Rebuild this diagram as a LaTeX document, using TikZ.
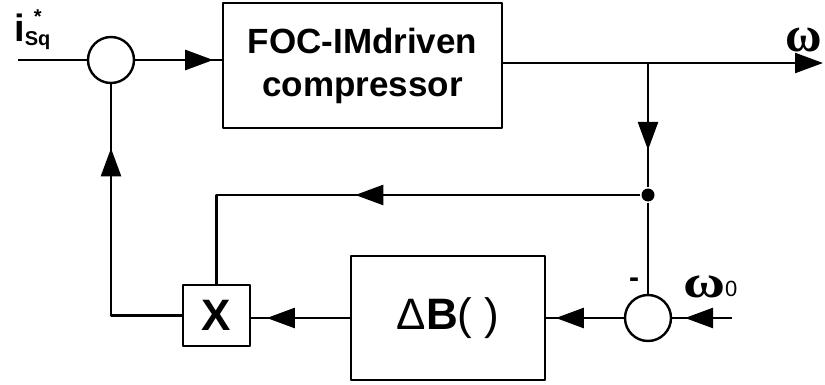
\documentclass[tikz,border=0pt]{standalone}
\usepackage{fontspec}
\setmainfont{Liberation Sans}
\newfontfamily\grkserif{Liberation Serif}
\usetikzlibrary{arrows.meta,decorations.markings}
\begin{document}
\begin{tikzpicture}[x=1pt,y=-1pt,line width=2.4pt,line join=round,
  tipa/.tip={Triangle[length=28pt,width=20pt]},
  blk/.style={draw,line width=2.4pt,inner sep=0pt,align=center},
  sumc/.style={draw,circle,minimum size=46pt,inner sep=0pt},
  marr/.style={postaction={decorate,decoration={markings,mark=at position #1 with {\arrow{tipa}}}}},
  lbl/.style={inner sep=0pt}]
\useasboundingbox (0,0) rectangle (825,385);
% blocks
\node[blk,minimum width=279pt,minimum height=125pt,font=\bfseries\fontsize{35}{43}\selectfont] (foc) at (362.5,65.5) {FOC-IMdriven\\compressor};
\node[blk,minimum width=67pt,minimum height=61pt,font=\bfseries\fontsize{44}{44}\selectfont] (xb) at (216.5,315.5) {X};
\node[blk,minimum width=194pt,minimum height=124pt,font=\fontsize{44}{44}\selectfont] (db) at (448,318) {Δ\textbf{B}( )};
\node[sumc] (c1) at (111,60) {};
\node[sumc] (c2) at (648,318) {};
\node[circle,fill,minimum size=13pt,inner sep=0pt] (dot) at (648,195) {};
% coordinates
\coordinate (in) at (18,60);
\coordinate (out) at (823,63);
\coordinate (br) at (648,63);
\coordinate (w0) at (732,318);
% connectors
\draw (in) -- (c1.west);
\draw[marr=78pt] (c1.east) -- (c1.east -| foc.west);
\draw[-tipa] (foc.east |- out) -- (out);
\draw[marr=87pt] (br) -- (dot);
\draw (dot) -- (c2.north);
\draw[marr=285pt] (dot) -- (dot -| xb) -- (xb.north);
\draw[marr=238pt] (xb.west) -| (c1.south);
\draw[marr=83pt] (db.west) -- (db.west -| xb.east);
\draw[marr=68pt] (c2.west) -- (db.east);
\draw[marr=47pt] (w0) -- (c2.east);
% labels
\node[lbl,font=\grkserif\bfseries\fontsize{50}{50}\selectfont] (om) at (804,40) {ω};
\node[lbl,anchor=base west,font=\grkserif\bfseries\fontsize{46}{46}\selectfont] (om0) at (682,297) {\scalebox{1.25}[1]{ω}\raisebox{1pt}{\normalfont\fontsize{22}{22}\selectfont 0}};
\node[lbl,font=\bfseries\fontsize{30}{30}\selectfont] (minus) at (634,283) {-};
\node[lbl,anchor=base west,font=\bfseries\fontsize{38}{38}\selectfont] (isq) at (13,42) {i\rlap{\hspace{9pt}\raisebox{18pt}{\fontsize{20}{20}\selectfont *}}\raisebox{-4pt}{\fontsize{20}{20}\selectfont Sq}};
\end{tikzpicture}
\end{document}
